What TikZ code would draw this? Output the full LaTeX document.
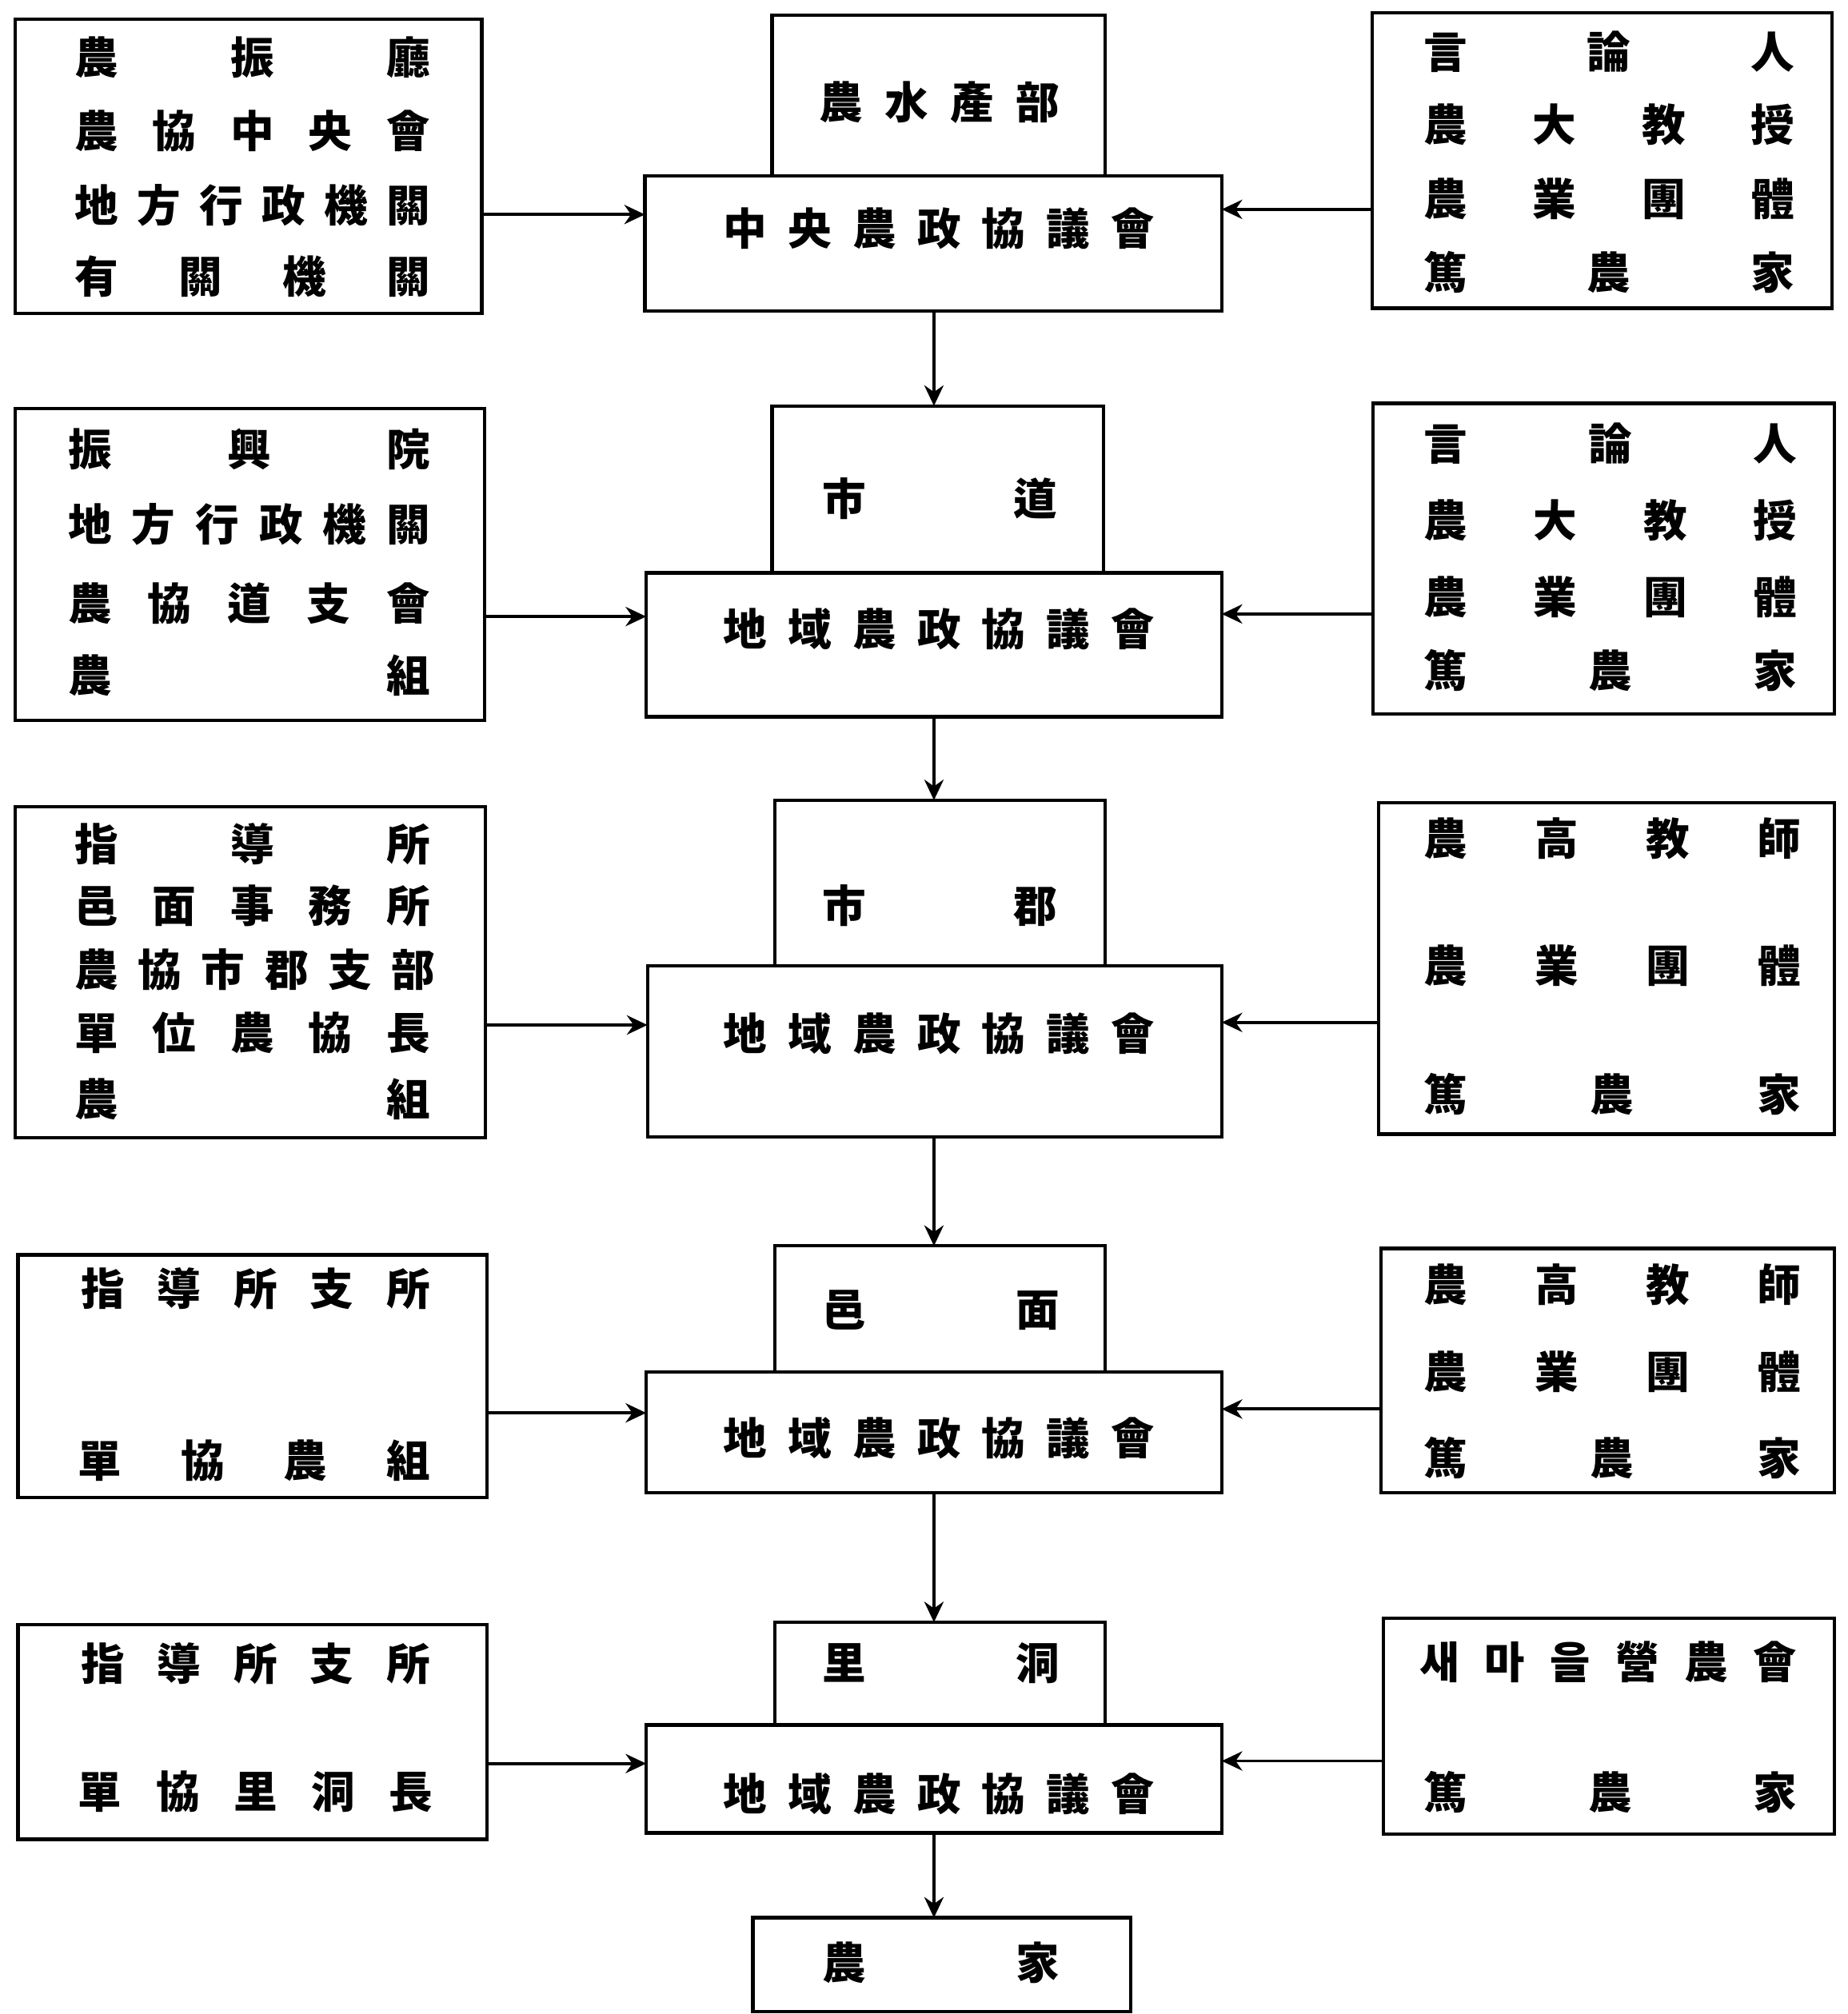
\documentclass[tikz,border=0pt]{standalone}
\usepackage{fontspec}
\setmainfont{Noto Sans CJK KR}
\usetikzlibrary{arrows.meta}
\newcommand{\rowfs}{34pt}
\newcommand{\trow}[5]{\node[rowtxt] (#1) at ({(#2+#3)/2},#4) {\makebox[\dimexpr #3pt-#2pt+\rowfs\relax][s]{#5}};}
\newcommand{\mkbox}[5]{\node[boxshape, minimum width={(#4-#2)*1pt}, minimum height={(#5-#3)*1pt}] (#1) at ({(#2+#4)/2},{(#3+#5)/2}) {};}
\begin{document}
\begin{tikzpicture}[x=1pt,y=-1pt,
  boxshape/.style={draw, line width=2.6pt, rectangle, inner sep=0pt, outer sep=0pt},
  rowtxt/.style={inner sep=0pt, outer sep=0pt, font=\fontsize{34}{40}\selectfont\bfseries},
  arr/.style={line width=2.4pt, -{Stealth[length=16pt,width=15pt]}}]
\useasboundingbox (0,0) rectangle (1438,1568);
% boxes
\mkbox{L1}{12}{15}{375}{244}
\mkbox{L2}{12}{318}{377}{561}
\mkbox{L3}{12}{628}{378}{886}
\mkbox{L4}{14}{977}{379}{1166}
\mkbox{L5}{14}{1265}{379}{1432}
\mkbox{T1}{601}{12}{860}{137}
\mkbox{C1}{502}{137}{951}{242}
\mkbox{T2}{601}{316}{859}{446}
\mkbox{C2}{503}{446}{951}{558}
\mkbox{T3}{603}{623}{860}{752}
\mkbox{C3}{504}{752}{951}{885}
\mkbox{T4}{603}{970}{860}{1068}
\mkbox{C4}{503}{1068}{951}{1162}
\mkbox{T5}{603}{1263}{860}{1343}
\mkbox{C5}{503}{1343}{951}{1427}
\mkbox{B}{586}{1493}{880}{1566}
\mkbox{R1}{1068}{10}{1426}{240}
\mkbox{R2}{1069}{314}{1428}{556}
\mkbox{R3}{1073}{625}{1428}{883}
\mkbox{R4}{1075}{972}{1428}{1162}
\mkbox{R5}{1077}{1260}{1428}{1428}
% left texts
\trow{l1a}{75}{318}{45}{農\hfill 振\hfill 廳}
\trow{l1b}{75}{318}{102}{農\hfill 協\hfill 中\hfill 央\hfill 會}
\trow{l1c}{75}{318}{160}{地\hfill 方\hfill 行\hfill 政\hfill 機\hfill 關}
\trow{l1d}{75}{318}{215}{有\hfill 關\hfill 機\hfill 關}
\trow{l2a}{70}{318}{350}{振\hfill 興\hfill 院}
\trow{l2b}{70}{318}{408}{地\hfill 方\hfill 行\hfill 政\hfill 機\hfill 關}
\trow{l2c}{70}{318}{470}{農\hfill 協\hfill 道\hfill 支\hfill 會}
\trow{l2d}{70}{318}{526}{農\hfill 組}
\trow{l3a}{75}{318}{657}{指\hfill 導\hfill 所}
\trow{l3b}{75}{318}{705}{邑\hfill 面\hfill 事\hfill 務\hfill 所}
\trow{l3c}{75}{322}{755}{農\hfill 協\hfill 市\hfill 郡\hfill 支\hfill 部}
\trow{l3d}{75}{318}{804}{單\hfill 位\hfill 農\hfill 協\hfill 長}
\trow{l3e}{75}{318}{856}{農\hfill 組}
\trow{l4a}{80}{318}{1003}{指\hfill 導\hfill 所\hfill 支\hfill 所}
\trow{l4b}{78}{318}{1137}{單\hfill 協\hfill 農\hfill 組}
\trow{l5a}{80}{318}{1295}{指\hfill 導\hfill 所\hfill 支\hfill 所}
\trow{l5b}{78}{320}{1395}{單\hfill 協\hfill 里\hfill 洞\hfill 長}
% centre texts
\trow{t1}{655}{808}{80}{農\hfill 水\hfill 產\hfill 部}
\trow{c1}{580}{882}{178}{中\hfill 央\hfill 農\hfill 政\hfill 協\hfill 議\hfill 會}
\trow{t2}{657}{806}{388}{市\hfill 道}
\trow{c2}{580}{882}{490}{地\hfill 域\hfill 農\hfill 政\hfill 協\hfill 議\hfill 會}
\trow{t3}{657}{806}{705}{市\hfill 郡}
\trow{c3}{580}{882}{805}{地\hfill 域\hfill 農\hfill 政\hfill 協\hfill 議\hfill 會}
\trow{t4}{657}{808}{1020}{邑\hfill 面}
\trow{c4}{580}{882}{1120}{地\hfill 域\hfill 農\hfill 政\hfill 協\hfill 議\hfill 會}
\trow{t5}{657}{808}{1295}{里\hfill 洞}
\trow{c5}{580}{882}{1397}{地\hfill 域\hfill 農\hfill 政\hfill 協\hfill 議\hfill 會}
\trow{b1}{657}{808}{1528}{農\hfill 家}
% right texts
\trow{r1a}{1125}{1380}{40}{言\hfill 論\hfill 人}
\trow{r1b}{1125}{1380}{97}{農\hfill 大\hfill 教\hfill 授}
\trow{r1c}{1125}{1380}{155}{農\hfill 業\hfill 團\hfill 體}
\trow{r1d}{1125}{1380}{212}{篤\hfill 農\hfill 家}
\trow{r2a}{1125}{1382}{345}{言\hfill 論\hfill 人}
\trow{r2b}{1125}{1382}{405}{農\hfill 大\hfill 教\hfill 授}
\trow{r2c}{1125}{1382}{465}{農\hfill 業\hfill 團\hfill 體}
\trow{r2d}{1125}{1382}{522}{篤\hfill 農\hfill 家}
\trow{r3a}{1125}{1385}{653}{農\hfill 高\hfill 教\hfill 師}
\trow{r3b}{1125}{1385}{752}{農\hfill 業\hfill 團\hfill 體}
\trow{r3c}{1125}{1385}{852}{篤\hfill 農\hfill 家}
\trow{r4a}{1125}{1385}{1000}{農\hfill 高\hfill 教\hfill 師}
\trow{r4b}{1125}{1385}{1068}{農\hfill 業\hfill 團\hfill 體}
\trow{r4c}{1125}{1385}{1135}{篤\hfill 農\hfill 家}
\trow{r5a}{1122}{1382}{1294}{새\hfill 마\hfill 을\hfill 營\hfill 農\hfill 會}
\trow{r5b}{1125}{1382}{1395}{篤\hfill 農\hfill 家}
% arrows left -> centre
\draw[arr] (L1.east |- 0,167) -- (C1.west |- 0,167);
\draw[arr] (L2.east |- 0,480) -- (C2.west |- 0,480);
\draw[arr] (L3.east |- 0,798) -- (C3.west |- 0,798);
\draw[arr] (L4.east |- 0,1100) -- (C4.west |- 0,1100);
\draw[arr] (L5.east |- 0,1373) -- (C5.west |- 0,1373);
% arrows right -> centre
\draw[arr] (R1.west |- 0,163) -- (C1.east |- 0,163);
\draw[arr] (R2.west |- 0,478) -- (C2.east |- 0,478);
\draw[arr] (R3.west |- 0,796) -- (C3.east |- 0,796);
\draw[arr] (R4.west |- 0,1097) -- (C4.east |- 0,1097);
\draw[arr] (R5.west |- 0,1371) -- (C5.east |- 0,1371);
% vertical arrows
\draw[arr] (C1.south -| 727,0) -- (T2.north -| 727,0);
\draw[arr] (C2.south -| 727,0) -- (T3.north -| 727,0);
\draw[arr] (C3.south -| 727,0) -- (T4.north -| 727,0);
\draw[arr] (C4.south -| 727,0) -- (T5.north -| 727,0);
\draw[arr] (C5.south -| 727,0) -- (B.north -| 727,0);
\end{tikzpicture}
\end{document}
